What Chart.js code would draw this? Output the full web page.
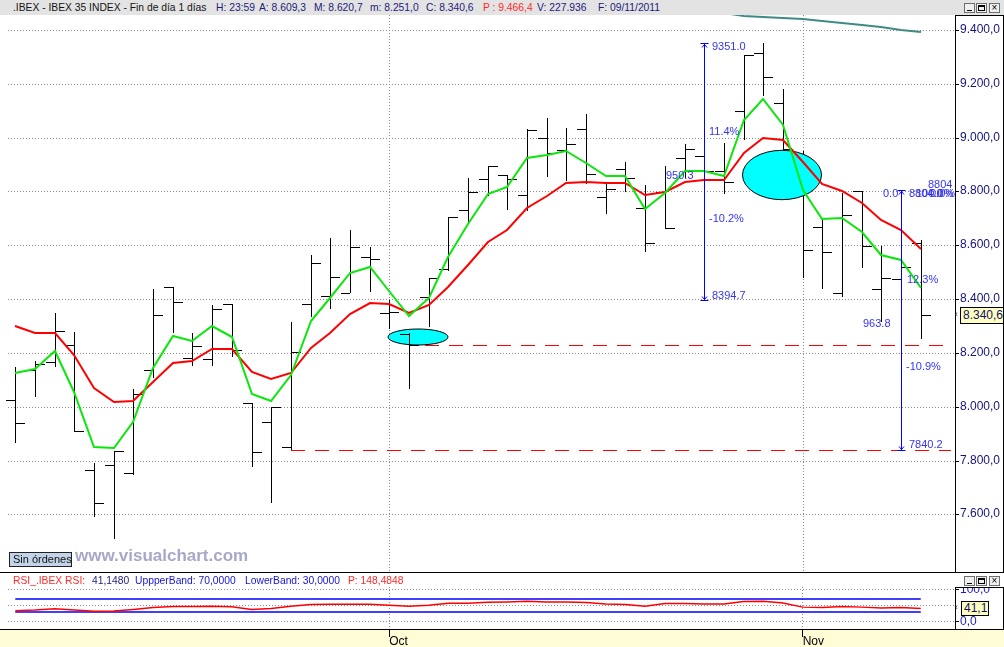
<!DOCTYPE html>
<html lang="es">
<head>
<meta charset="utf-8">
<title>IBEX 35 INDEX - Fin de día</title>
<script src="https://cdn.jsdelivr.net/npm/chart.js@4.4.1/dist/chart.umd.min.js"></script>
<style>
  html, body { margin: 0; padding: 0; }
  body { position: relative; width: 1004px; height: 647px; overflow: hidden; background: #fff;
         font-family: "Liberation Sans", Arial, sans-serif; }
  .a { position: absolute; white-space: nowrap; }
  #header { left: 0; top: 0; width: 1004px; height: 15px; background: #e3e3e3; z-index: 5; font-size: 10.3px; }
  #header span, #rsiTitle span { position: absolute; top: 1px; line-height: 13px; }
  .dk { color: #141414; }
  .nv { color: #1b1b7c; }
  .rd { color: #ff2a2a; }
  .bl { color: #1414d2; }
  .btn { position: absolute; width: 9px; height: 8px; border: 1px solid #6e6e6e; background: #efefef; z-index: 7; }
  .btn i { position: absolute; background: #000; }
  .valbox { position: absolute; background: #ffffc4; border: 1px solid #000; font-size: 12px; color: #111160;
            line-height: 14px; padding-left: 2px; box-sizing: border-box; z-index: 6; }
</style>
</head>
<body>
<div class="a" style="left:0;top:629px;width:1004px;height:18px;background:#fffcd6"></div>
<canvas id="main" class="a" width="1004" height="572" style="left:0;top:0"></canvas>
<canvas id="rsi" class="a" width="1004" height="75" style="left:0;top:572px"></canvas>

<div id="header" class="a">
  <span class="dk" style="left:13px">.IBEX - IBEX 35 INDEX - Fin de día 1 días</span>
  <span class="nv" style="left:216px">H: 23:59</span>
  <span class="nv" style="left:259px">A: 8.609,3</span>
  <span class="nv" style="left:314px">M: 8.620,7</span>
  <span class="nv" style="left:370px">m: 8.251,0</span>
  <span class="nv" style="left:426px">C: 8.340,6</span>
  <span class="rd" style="left:483px">P : 9.466,4</span>
  <span class="nv" style="left:537px">V: 227.936</span>
  <span class="nv" style="left:598px">F: 09/11/2011</span>
</div>
<div class="btn" style="left:964px;top:3px"><i style="left:2px;top:6px;width:5px;height:1px"></i></div>
<div class="btn" style="left:976px;top:3px"><i style="left:1px;top:1px;width:7px;height:2px"></i><i style="left:1px;top:1px;width:1px;height:6px"></i><i style="left:7px;top:1px;width:1px;height:6px"></i><i style="left:1px;top:6px;width:7px;height:1px"></i></div>
<div class="btn" style="left:989px;top:3px;font-size:10px;line-height:8px;text-align:center">×</div>

<!-- recuadros de paneles -->
<div class="a" style="left:955px;top:15px;width:49px;height:558px;border:1px solid #000;box-sizing:border-box;z-index:4"></div>
<div class="a" style="left:0;top:572px;width:1004px;height:1px;background:#000;z-index:4"></div>
<div class="a" style="left:955px;top:573px;width:49px;height:14px;background:#fff;z-index:4"></div>
<div class="a" style="left:955px;top:587px;width:49px;height:43px;border:1px solid #000;box-sizing:border-box;z-index:4"></div>
<div class="a" style="left:0;top:629px;width:1004px;height:1px;background:#000;z-index:4"></div>
<div class="btn" style="left:964px;top:576px"><i style="left:2px;top:6px;width:5px;height:1px"></i></div>
<div class="btn" style="left:976px;top:576px"><i style="left:1px;top:1px;width:7px;height:2px"></i><i style="left:1px;top:1px;width:1px;height:6px"></i><i style="left:7px;top:1px;width:1px;height:6px"></i><i style="left:1px;top:6px;width:7px;height:1px"></i></div>
<div class="btn" style="left:989px;top:576px;font-size:10px;line-height:8px;text-align:center">×</div>

<div id="rsiTitle" class="a" style="left:0;top:573px;width:600px;height:13px;font-size:10.3px;z-index:5">
  <span class="rd" style="left:13px">RSI_.IBEX RSI:</span>
  <span class="nv" style="left:92px">41,1480</span>
  <span class="bl" style="left:135px">UppperBand: 70,0000</span>
  <span class="bl" style="left:245px">LowerBand: 30,0000</span>
  <span class="rd" style="left:348px">P: 148,4848</span>
</div>

<div class="a" style="left:955px;top:309px;font-size:9px;color:#333;z-index:6">‹</div>
<div class="valbox" style="left:960px;top:307px;width:44px;height:17px">8.340,6</div>
<div class="a" style="left:955px;top:602px;font-size:9px;color:#333;z-index:6">‹</div>
<div class="valbox" style="left:961px;top:601px;width:28px;height:15px;line-height:13px">41,1</div>

<div class="a" style="left:9px;top:552px;width:63px;height:15px;background:#c3d4ea;border:1px solid #222;box-sizing:border-box;font-size:11px;line-height:13px;color:#111;padding-left:3px;z-index:4">Sin órdenes</div>
<div class="a" style="left:75px;top:546px;font-size:17px;font-weight:bold;color:#a7a7c9;z-index:4">www.visualchart.com</div>

<script>
Chart.defaults.font.family = '"Liberation Sans", Arial, sans-serif';

// sesiones: 06/09/2011 .. 09/11/2011
const dates = [
  '06/09', '07/09', '08/09', '09/09', '12/09', '13/09', '14/09', '15/09', '16/09', '19/09',
  '20/09', '21/09', '22/09', '23/09', '26/09', '27/09', '28/09', '29/09', '30/09',
  '03/10', '04/10', '05/10', '06/10', '07/10', '10/10', '11/10', '12/10', '13/10', '14/10',
  '17/10', '18/10', '19/10', '20/10', '21/10', '24/10', '25/10', '26/10', '27/10', '28/10', '31/10',
  '01/11', '02/11', '03/11', '04/11', '07/11', '08/11', '09/11'
];
const openP = [
  8025, 8136, 8165, 8229, 7763, 7783, 7752, 8135, 8446, 8180,
  8176, 8380, 8012, 7944, 7849, 8380, 8410, 8424, 8555,
  8347, 8270, 8406, 8511, 8730, 8848, 8861, 8787, 8999, 8953,
  9031, 8781, 8882, 8740, 8799, 8926, 8932, 8876, 9100, 9313, 9130,
  8900, 8667, 8424, 8802, 8437, 8475, 8609.3
];
const highP = [
  8148, 8170, 8347, 8276, 7790, 7835, 8066, 8436, 8446, 8273,
  8378, 8380, 8012, 7998, 8314, 8564, 8626, 8657, 8595,
  8397, 8273, 8480, 8704, 8849, 8895, 8861, 9031, 9072, 9035,
  9087, 8830, 8908, 8824, 8896, 8975, 8973, 8979, 9307, 9351, 9181,
  8950, 8696, 8793, 8802, 8597, 8650, 8620.7
];
const lowP = [
  7866, 8037, 8149, 7905, 7591, 7507, 7746, 8105, 8275, 8153,
  8153, 8186, 7775, 7641, 7840.2, 8335, 8364, 8424, 8428,
  8289, 8065, 8295, 8506, 8682, 8784, 8731, 8729, 8855, 8839,
  8826, 8715, 8799, 8574, 8660, 8851, 8799, 8791, 8991, 9155, 8890,
  8480, 8436, 8406, 8514, 8316, 8440, 8251.0
];
const closeP = [
  7938, 8157, 8280, 7911, 7641, 7834, 8047, 8340, 8388, 8224,
  8362, 8210, 7830, 7997, 8202, 8533, 8481, 8592, 8548,
  8353, 8229, 8480, 8704, 8797, 8895, 8845, 9028, 8942, 8975,
  8864, 8810, 8849, 8607, 8663, 8957, 8877, 8834, 9307, 9224, 8957,
  8582, 8574, 8711, 8597, 8477, 8520, 8340.6
];
const fastMA = [
  8126, 8141, 8207, 8056, 7851, 7848, 7944, 8143, 8264, 8245,
  8301, 8258, 8046, 8022, 8118, 8319, 8404, 8496, 8520,
  8431, 8337, 8403, 8555, 8679, 8791, 8815, 8923, 8935, 8952,
  8907, 8859, 8859, 8735, 8793, 8877, 8877, 8859, 9066, 9142, 9047,
  8805, 8698, 8703, 8651, 8564, 8545, 8442
];
const slowMA = [
  8301, 8275, 8275, 8192, 8068, 8019, 8022, 8093, 8164, 8171,
  8214, 8214, 8130, 8103, 8126, 8217, 8273, 8345, 8387,
  8382, 8350, 8378, 8446, 8527, 8611, 8657, 8737, 8784, 8833,
  8835, 8833, 8833, 8787, 8799, 8834, 8843, 8843, 8942, 9000, 8991,
  8908, 8828, 8802, 8756, 8694, 8657, 8586
];
const longMAStart = 35;
const longMA = [9472, 9463, 9453, 9450, 9446, 9440, 9433, 9426, 9419, 9410, 9401, 9392];
const rsi = [
  34, 36, 40, 36, 32, 33, 38, 44, 47, 47,
  48, 46, 38, 41, 48, 53, 54, 54, 54,
  51, 48, 51, 57, 57, 60, 61, 63, 61, 61,
  59, 55, 53, 48, 56, 56, 55, 55, 62, 63, 58,
  45, 44, 47, 45, 42, 44, 41.1
];
const upperBand = 70;
const lowerBand = 30;
const priceTicks = [7600, 7800, 8000, 8200, 8400, 8600, 8800, 9000, 9200, 9400];
const priceTickLabels = ['7.600,0', '7.800,0', '8.000,0', '8.200,0', '8.400,0', '8.600,0', '8.800,0', '9.000,0', '9.200,0', '9.400,0'];
const rsiTicks = [0, 50, 100];
const rsiTickLabels = ['0,0', '', '100,0'];
const monthTickIndex = [19, 40];
const monthTickLabels = ['Oct', 'Nov'];

// dibujos del usuario sobre el gráfico (en coordenadas de sesión / precio)
const highlights = [
  { bar: 20.48, value: 8258, rx: 30, ry: 8 },
  { bar: 38.93, value: 8862, rx: 39.5, ry: 24.7 }
];
const levelLines = [
  { fromBar: 20.8, value: 8231 },
  { fromBar: 14, value: 7840.2 }
];
const measures = [
  { bar: 35, top: 9351.0, bottom: 8394.7 },
  { bar: 45, top: 8804, bottom: 7840.2 }
];
const measureLabels = [
  { text: '9351.0', bar: 35, dx: 8, value: 9351.0, dy: 3.5 },
  { text: '8394.7', bar: 35, dx: 8, value: 8394.7, dy: -4.5 },
  { text: '11.4%', bar: 35, dx: 5, value: 9020, dy: 0 },
  { text: '-10.2%', bar: 35, dx: 5, value: 8696, dy: 0 },
  { text: '950.3', bar: 35, dx: -38, value: 8857, dy: 0 },
  { text: '0.0', bar: 45, dx: -18, value: 8804, dy: 3.6 },
  { text: '8804', bar: 45, dx: 27, value: 8804, dy: -5 },
  { text: '8804.0', bar: 45, dx: 8, value: 8804, dy: 3.6 },
  { text: '100.0%', bar: 45, dx: 15, value: 8804, dy: 3.6 },
  { text: '0.0%', bar: 45, dx: 29, value: 8804, dy: 3.6 },
  { text: '12.3%', bar: 45, dx: 6, value: 8471, dy: 0 },
  { text: '963.8', bar: 45, dx: -38, value: 8307, dy: 0 },
  { text: '-10.9%', bar: 45, dx: 5, value: 8146, dy: 0 },
  { text: '7840.2', bar: 45, dx: 8, value: 7840.2, dy: -4.7 }
];

const X_MIN = -0.371, X_MAX = 47.741;
const GRID = '#8c8c8c';

// guiones de apertura (izquierda) y cierre (derecha), 9 px pegados a la barra
function tickMark(side) {
  const c = document.createElement('canvas');
  c.width = 20; c.height = 2;
  const g = c.getContext('2d');
  g.fillStyle = '#000';
  g.fillRect(side < 0 ? 1 : 11, 1, 9, 1);
  return c;
}
const openMark = tickMark(-1);
const closeMark = tickMark(1);

function drawEllipse(chart, h) {
  const ctx = chart.ctx;
  const cx = chart.scales.x.getPixelForValue(h.bar);
  const cy = chart.scales.y.getPixelForValue(h.value);
  ctx.save();
  ctx.beginPath();
  ctx.ellipse(cx, cy, h.rx, h.ry, 0, 0, Math.PI * 2);
  ctx.fillStyle = '#00ffff';
  ctx.fill();
  ctx.lineWidth = 1;
  ctx.strokeStyle = '#000';
  ctx.stroke();
  ctx.restore();
}

const marcas = {
  id: 'marcas',
  beforeDatasetsDraw(chart) {
    drawEllipse(chart, highlights[0]);
  },
  afterDatasetDraw(chart, args) {
    if (args.index === 3) drawEllipse(chart, highlights[1]);
  },
  afterDatasetsDraw(chart) {
    const ctx = chart.ctx, xs = chart.scales.x, ys = chart.scales.y;
    const right = chart.chartArea.right - 4;
    ctx.save();
    ctx.lineWidth = 1;
    ctx.setLineDash([14, 10]);
    levelLines.forEach(l => {
      const y = Math.round(ys.getPixelForValue(l.value)) + 0.5;
      ctx.strokeStyle = '#ff0000';
      ctx.beginPath();
      ctx.moveTo(xs.getPixelForValue(l.fromBar), y);
      ctx.lineTo(right, y);
      ctx.stroke();
    });
    ctx.setLineDash([]);
    ctx.strokeStyle = '#0000ff';
    measures.forEach(m => {
      const x = Math.round(xs.getPixelForValue(m.bar)) + 0.5;
      const y1 = Math.round(ys.getPixelForValue(m.top)) + 0.5;
      const y2 = Math.round(ys.getPixelForValue(m.bottom)) + 0.5;
      ctx.beginPath();
      ctx.moveTo(x, y1); ctx.lineTo(x, y2);
      ctx.moveTo(x - 4, y1); ctx.lineTo(x + 4, y1);
      ctx.moveTo(x - 4, y2); ctx.lineTo(x + 4, y2);
      ctx.moveTo(x - 2.5, y1 + 4); ctx.lineTo(x, y1 + 1); ctx.lineTo(x + 2.5, y1 + 4);
      ctx.moveTo(x - 2.5, y2 - 4); ctx.lineTo(x, y2 - 1); ctx.lineTo(x + 2.5, y2 - 4);
      ctx.stroke();
    });
    ctx.fillStyle = '#3434ee';
    ctx.font = '11px "Liberation Sans", Arial, sans-serif';
    ctx.textBaseline = 'middle';
    ctx.textAlign = 'left';
    measureLabels.forEach(t => {
      ctx.fillText(t.text, xs.getPixelForValue(t.bar) + t.dx, ys.getPixelForValue(t.value) + t.dy);
    });
    ctx.restore();
  }
};

new Chart(document.getElementById('main'), {
  data: {
    datasets: [
      { type: 'line', label: 'Media rápida', data: dates.map((d, i) => ({ x: i, y: fastMA[i] })),
        borderColor: '#0be60b', borderWidth: 2, pointRadius: 0, tension: 0, order: 0 },
      { type: 'line', label: 'Media lenta', data: dates.map((d, i) => ({ x: i, y: slowMA[i] })),
        borderColor: '#ff0000', borderWidth: 2, pointRadius: 0, tension: 0, order: 1 },
      { type: 'line', label: 'Media larga', data: longMA.map((v, k) => ({ x: longMAStart + k, y: v })),
        borderColor: '#3f8a85', borderWidth: 2, pointRadius: 0, tension: 0, order: 2 },
      { type: 'line', label: 'Cierre', data: dates.map((d, i) => ({ x: i, y: closeP[i] })),
        showLine: false, pointStyle: closeMark, pointRadius: 5, order: 3 },
      { type: 'line', label: 'Apertura', data: dates.map((d, i) => ({ x: i, y: openP[i] })),
        showLine: false, pointStyle: openMark, pointRadius: 5, clip: false, order: 4 },
      { type: 'bar', label: 'Máx-Mín', data: dates.map((d, i) => ({ x: i, y: [lowP[i], highP[i]] })),
        backgroundColor: '#000', borderColor: 'rgba(0,0,0,0)',
        borderWidth: { left: 1, right: 0, top: 0, bottom: 0 }, borderSkipped: false,
        barThickness: 2, inflateAmount: 0, order: 5 }
    ]
  },
  options: {
    responsive: false,
    animation: false,
    events: [],
    layout: { autoPadding: false, padding: { left: 8, top: 0, right: 0, bottom: 0 } },
    plugins: { legend: { display: false }, tooltip: { enabled: false } },
    scales: {
      x: {
        type: 'linear', min: X_MIN, max: X_MAX, offset: false, alignToPixels: true,
        afterBuildTicks: s => { s.ticks = monthTickIndex.map(v => ({ value: v })); },
        afterFit: s => { s.height = 0; s.paddingLeft = 0; s.paddingRight = 0; },
        ticks: { display: false },
        grid: { color: GRID, drawTicks: false, offset: false, borderDash: [1, 2] },
        border: { display: false, dash: [1, 2] }
      },
      y: {
        type: 'linear', position: 'right', min: 7385.6, max: 9511.5, alignToPixels: true,
        afterBuildTicks: s => { s.ticks = priceTicks.map(v => ({ value: v })); },
        afterFit: s => { s.width = 49; s.paddingTop = 0; s.paddingBottom = 0; },
        ticks: {
          callback: v => priceTickLabels[priceTicks.indexOf(v)],
          color: '#14147c', font: { size: 12 }, padding: 1
        },
        grid: { color: GRID, tickColor: '#000', tickLength: 4, tickBorderDash: [], borderDash: [1, 2] },
        border: { color: '#000', dash: [1, 2] }
      }
    }
  },
  plugins: [marcas]
});

new Chart(document.getElementById('rsi'), {
  data: {
    datasets: [
      { type: 'line', label: 'RSI', data: dates.map((d, i) => ({ x: i, y: rsi[i] })),
        borderColor: '#ff0000', borderWidth: 1.5, pointRadius: 0, tension: 0, order: 0 },
      { type: 'line', label: 'UppperBand', data: [{ x: 0, y: upperBand }, { x: dates.length - 1, y: upperBand }],
        borderColor: '#0000ff', borderWidth: 1.5, pointRadius: 0, order: 1 },
      { type: 'line', label: 'LowerBand', data: [{ x: 0, y: lowerBand }, { x: dates.length - 1, y: lowerBand }],
        borderColor: '#0000ff', borderWidth: 1.5, pointRadius: 0, order: 2 }
    ]
  },
  options: {
    responsive: false,
    animation: false,
    events: [],
    layout: { autoPadding: false, padding: { left: 8, top: 15, right: 0, bottom: 0 } },
    plugins: { legend: { display: false }, tooltip: { enabled: false } },
    scales: {
      x: {
        type: 'linear', min: X_MIN, max: X_MAX, offset: false,
        afterBuildTicks: s => { s.ticks = monthTickIndex.map(v => ({ value: v })); },
        afterFit: s => { s.height = 18; s.paddingLeft = 0; s.paddingRight = 0; },
        ticks: {
          callback: v => monthTickLabels[monthTickIndex.indexOf(v)],
          align: 'start', color: '#000', font: { size: 12 }, padding: -3,
          maxRotation: 0, autoSkip: false
        },
        grid: { color: GRID, tickColor: '#000', tickLength: 8, tickBorderDash: [], offset: false, borderDash: [1, 2] },
        border: { display: true, color: '#000', dash: [1, 2] }
      },
      y: {
        type: 'linear', position: 'right', min: -22.5, max: 107.1,
        afterBuildTicks: s => { s.ticks = rsiTicks.map(v => ({ value: v })); },
        afterFit: s => { s.width = 49; s.paddingTop = 0; s.paddingBottom = 0; },
        ticks: {
          callback: v => rsiTickLabels[rsiTicks.indexOf(v)],
          color: '#1a1ac8', font: { size: 12 }, padding: 1
        },
        grid: {
          color: GRID, tickLength: 4, tickBorderDash: [], borderDash: [1, 2],
          tickColor: c => (c.tick && c.tick.value === 50) ? 'rgba(0,0,0,0)' : '#000'
        },
        border: { color: '#000', dash: [1, 2] }
      }
    }
  }
});
</script>
</body>
</html>
